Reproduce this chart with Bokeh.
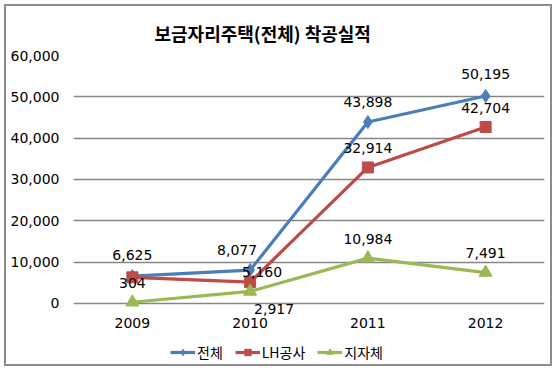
from bokeh.plotting import figure
from bokeh.models import (ColumnDataSource, FactorRange, Range1d, Legend, LegendItem,
                          NumeralTickFormatter, FixedTicker)
from bokeh.core.properties import value
from bokeh.embed import file_html
from bokeh.resources import INLINE

# ---- data ----
years = ["2009", "2010", "2011", "2012"]
total = [6625, 8077, 43898, 50195]      # 전체
lh = [6321, 5160, 32914, 42704]         # LH공사
local = [304, 2917, 10984, 7491]        # 지자체
series_names = ["전체", "LH공사", "지자체"]
y_ticks = [0, 10000, 20000, 30000, 40000, 50000, 60000]
title_text = "보금자리주택(전체) 착공실적"

# ---- style ----
KFONT = "Noto Sans CJK KR"
NFONT = "DejaVu Sans"
colors = ["#4A7EBB", "#BE4B48", "#98B954"]
markers = ["diamond", "square", "triangle"]
msizes = [13, 11, 13]
# label offsets (px) per series per point; None = label not shown
label_dx = [[0, -13, 0, 0], [0, 12, 0, 0], [0, 24, 0, 0]]
label_dy = [[-21, -20, -20, -22], [None, -10, -19, -19], [-19, 18, -19, -20]]

p = figure(width=548, height=362,
           x_range=FactorRange(*years, range_padding=0),
           y_range=Range1d(-15242, 60000),
           output_backend="svg", toolbar_location=None,
           min_border_left=67, min_border_right=10, min_border_top=49, min_border_bottom=2)
p.styles = {"border": "2px solid #8c8c8c", "margin": "4px 0 0 4px"}
p.outline_line_color = None
p.background_fill_color = "white"
p.border_fill_color = "white"

p.title.text = title_text
p.title.align = "left"
p.title.offset = 81
p.title.standoff = 20
p.title.text_font = KFONT
p.title.text_font_size = "18px"
p.title.text_font_style = "bold"
p.title.text_color = "#000000"

p.yaxis.ticker = FixedTicker(ticks=y_ticks)
p.yaxis.formatter = NumeralTickFormatter(format="0,0")
p.yaxis.axis_line_color = None
p.yaxis.major_tick_line_color = None
p.yaxis.minor_tick_line_color = None
p.yaxis.major_label_standoff = 8
p.xaxis.axis_line_color = None
p.xaxis.major_tick_line_color = None
p.xaxis.minor_tick_line_color = None
p.xaxis.major_label_standoff = -55
for ax in (p.xaxis, p.yaxis):
    ax.major_label_text_font = NFONT
    ax.major_label_text_font_size = "14px"
    ax.major_label_text_color = "#000000"

p.xgrid.grid_line_color = None
p.ygrid.grid_line_color = "#868686"
p.ygrid.grid_line_width = 1.5

items = []
for name, vals, col, mk, ms, dxs, dys in zip(series_names, [total, lh, local], colors,
                                             markers, msizes, label_dx, label_dy):
    src = ColumnDataSource(dict(x=years, y=vals))
    r1 = p.line("x", "y", source=src, line_color=col, line_width=3.2)
    r2 = p.scatter("x", "y", source=src, marker=mk, size=ms, fill_color=col, line_color=col)
    items.append(LegendItem(label=name, renderers=[r1, r2]))
    lx, ly, lt, ox, oy = [], [], [], [], []
    for xv, yv, dx, dy in zip(years, vals, dxs, dys):
        if dy is None:
            continue
        lx.append(xv); ly.append(yv); lt.append(f"{yv:,}"); ox.append(dx); oy.append(dy)
    lsrc = ColumnDataSource(dict(x=lx, y=ly, t=lt, ox=ox, oy=oy))
    p.text("x", "y", text="t", source=lsrc, x_offset="ox", y_offset="oy",
           text_font=value(NFONT), text_font_size="14px", text_color="#000000",
           text_align="center", text_baseline="middle")

legend = Legend(items=items, orientation="horizontal", location=(97, 4),
                label_text_font=KFONT, label_text_font_size="14px",
                label_text_color="#000000", border_line_color=None,
                background_fill_alpha=0,
                glyph_width=25, glyph_height=16, spacing=12, label_standoff=2,
                padding=2, margin=0)
p.add_layout(legend, "center")

open("out.html", "w").write(file_html(p, INLINE))
